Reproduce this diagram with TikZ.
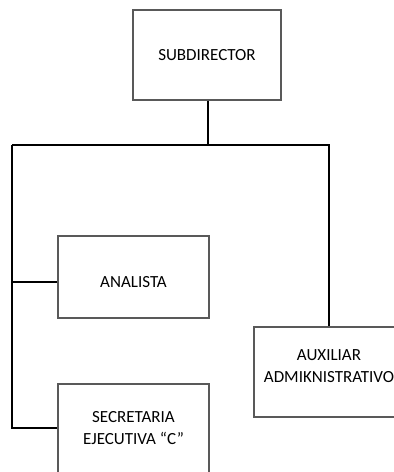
\documentclass[tikz,border=0pt]{standalone}
\usepackage{fontspec}
\setmainfont{Carlito}
\begin{document}
\begin{tikzpicture}[x=1pt,y=1pt,
  lbl/.style={align=center, inner sep=0pt, font=\fontsize{17}{22}\selectfont},
  unit/.style={draw=black!65, line width=1.3pt, fill=white, rectangle, lbl},
  link/.style={draw=black, line width=1.3pt}]
  \useasboundingbox (0,0) rectangle (394,-472);
  \clip (0,0) rectangle (394,-472);
  % org chart boxes
  \node[unit, minimum width=148, minimum height=90] (sub) at (207,-55) {SUBDIRECTOR};
  \node[unit, minimum width=151, minimum height=82] (ana) at (133.5,-277) {};
  \node[lbl] (anatxt) at (133.5,-282) {ANALISTA};
  \node[unit, minimum width=151, minimum height=100] (sec) at (133.5,-434) {};
  \node[lbl] (sectxt) at (133.5,-428) {SECRETARIA\\EJECUTIVA ``C''};
  \node[unit, minimum width=150, minimum height=90] (aux) at (329,-372) {};
  \node[lbl] (auxtxt) at (329,-366) {AUXILIAR\\ADMIKNISTRATIVO};
  % connectors
  \coordinate (bus) at (208,-145);
  \coordinate (left) at (12,-145);
  \coordinate (right) at (329,-145);
  \draw[link] (sub.south -| bus) -- (bus);
  \draw[link] (left) -- (right) -- (aux.north);
  \draw[link] (left) |- (sec.west |- sectxt);
  \draw[link] (ana.west |- anatxt) -- (anatxt -| left);
\end{tikzpicture}
\end{document}
